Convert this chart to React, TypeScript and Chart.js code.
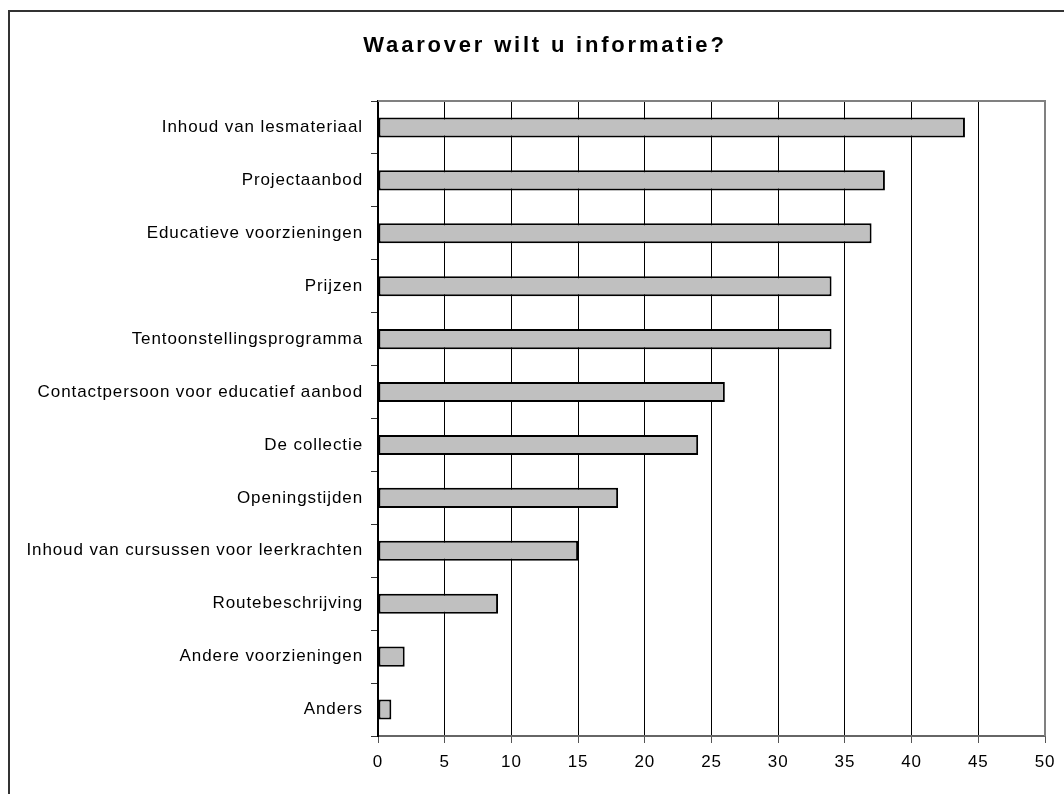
import React, { useEffect, useRef } from "react";
import { Chart, registerables } from "chart.js";

Chart.register(...registerables);

const TITLE = "Waarover wilt u informatie?";

const categories = [
  "Inhoud van lesmateriaal",
  "Projectaanbod",
  "Educatieve voorzieningen",
  "Prijzen",
  "Tentoonstellingsprogramma",
  "Contactpersoon voor educatief aanbod",
  "De collectie",
  "Openingstijden",
  "Inhoud van cursussen voor leerkrachten",
  "Routebeschrijving",
  "Andere voorzieningen",
  "Anders",
];

const values = [44, 38, 37, 34, 34, 26, 24, 18, 15, 9, 2, 1];

const X_MIN = 0;
const X_MAX = 50;
const X_STEP = 5;

const FONT = "Arial, 'Liberation Sans', sans-serif";

export default function App() {
  const ref = useRef<HTMLCanvasElement>(null);

  useEffect(() => {
    const canvas = ref.current;
    if (!canvas) return;

    const spacingPlugin = {
      id: "letterSpacing",
      beforeDraw(chart: any) {
        (chart.ctx as any).letterSpacing = "0.9px";
      },
    };

    const framePlugin = {
      id: "frame",
      beforeDatasetsDraw(chart: any) {
        const { left, right, top, bottom } = chart.chartArea;
        const ctx = chart.ctx;
        ctx.save();
        ctx.strokeStyle = "#808080";
        ctx.lineWidth = 2;
        ctx.beginPath();
        ctx.moveTo(left, top);
        ctx.lineTo(right, top);
        ctx.lineTo(right, bottom);
        ctx.stroke();
        ctx.restore();
      },
    };

    const titlePlugin = {
      id: "customTitle",
      afterDraw(chart: any) {
        const ctx = chart.ctx;
        ctx.save();
        (ctx as any).letterSpacing = "2.8px";
        ctx.font = `bold 22px ${FONT}`;
        ctx.fillStyle = "#000";
        ctx.textAlign = "center";
        ctx.textBaseline = "middle";
        ctx.fillText(TITLE, 545, 46);
        ctx.restore();
      },
    };

    const chart = new Chart(canvas, {
      type: "bar",
      data: {
        labels: categories,
        datasets: [
          {
            data: values,
            backgroundColor: "#C0C0C0",
            borderColor: "#000",
            borderWidth: 2,
            borderSkipped: false,
            categoryPercentage: 1,
            barPercentage: 0.38,
          },
        ],
      },
      options: {
        indexAxis: "y",
        animation: false,
        responsive: false,
        maintainAspectRatio: false,
        layout: { padding: { left: 0, right: 19, top: 101, bottom: 0 } },
        plugins: {
          legend: { display: false },
          title: { display: false },
          tooltip: { enabled: false },
        },
        scales: {
          x: {
            type: "linear",
            min: X_MIN,
            max: X_MAX,
            ticks: {
              stepSize: X_STEP,
              color: "#000",
              padding: 9,
              font: { family: FONT, size: 17 },
            },
            grid: {
              drawOnChartArea: true,
              drawTicks: true,
              tickLength: 7,
              lineWidth: 1,
              color: (c: any) =>
                c.tick && c.tick.value === X_MAX ? "#808080" : "#000",
              tickColor: "#555",
            },
            border: { display: true, color: "#666", width: 2 },
            afterFit: (scale: any) => {
              scale.height = 58;
            },
          },
          y: {
            type: "category",
            offset: true,
            ticks: {
              color: "#000",
              padding: 8,
              font: { family: FONT, size: 17 },
            },
            grid: {
              offset: true,
              drawOnChartArea: false,
              drawTicks: true,
              tickLength: 7,
              tickColor: "#333",
            },
            border: { display: true, color: "#000", width: 2 },
            afterFit: (scale: any) => {
              scale.width = 378;
            },
          },
        },
      },
      plugins: [spacingPlugin, framePlugin, titlePlugin],
    });

    return () => chart.destroy();
  }, []);

  return (
    <div>
      <div
        style={{
          position: "fixed",
          left: 8,
          top: 10,
          width: 1200,
          height: 1000,
          border: "2px solid #333",
          boxSizing: "border-box",
          background: "#fff",
        }}
      />
      <canvas
        ref={ref}
        width={1064}
        height={794}
        style={{
          position: "fixed",
          left: 0,
          top: 0,
          width: 1064,
          height: 794,
          zIndex: 1,
          display: "block",
        }}
      />
    </div>
  );
}
